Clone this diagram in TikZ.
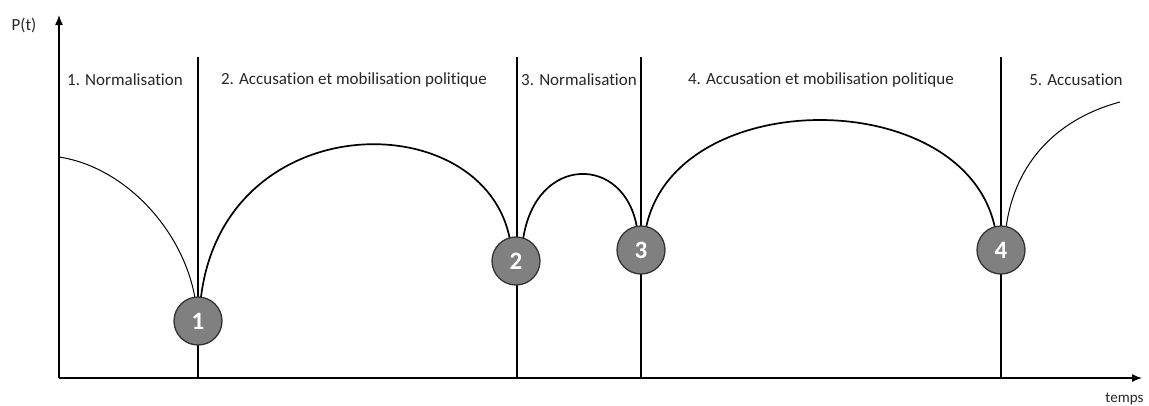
\documentclass[tikz,border=0pt]{standalone}
\usepackage{fontspec}
\setmainfont{Carlito}[Ligatures=NoCommon]
\usetikzlibrary{arrows.meta}
\begin{document}
\begin{tikzpicture}[x=1pt,y=-1pt,
  axis/.style={line width=1.4pt,-{Latex[length=10pt,width=8pt]}},
  sep/.style={line width=1.1pt},
  thick arc/.style={line width=1.7pt},
  thin arc/.style={line width=1pt},
  phase/.style={font=\fontsize{17}{20}\selectfont, text=black!85, anchor=center},
  marker/.style={circle, minimum size=48pt, inner sep=0pt, fill=black!50, draw=black!80, line width=1.3pt, text=white, font=\fontsize{25}{28}\selectfont\bfseries}
]
\useasboundingbox (0,0) rectangle (1149,405);
% axes
\coordinate (O) at (59,378);
\coordinate (Ytop) at (59,15);
\coordinate (Xend) at (1142,378);
\draw[axis] (O) -- (Ytop);
\draw[axis] (O) -- (Xend);
\node[phase, anchor=center] (pt) at (24,25) {P(t)};
\node[phase, anchor=east, font=\fontsize{15}{18}\selectfont] (temps) at (1147,399) {temps};
% separators
\foreach \n/\x in {a/198, b/517, c/641, d/1001} {
  \coordinate (\n top) at (\x,57);
  \coordinate (\n bot) at (\x,378);
  \draw[sep] (\n top) -- (\n bot);
}
% phase labels
\node[phase] (l1) at (125,80) {1. Normalisation};
\node[phase] (l2) at (354,80) {2. Accusation et mobilisation politique};
\node[phase] (l3) at (579,80) {3. Normalisation};
\node[phase] (l4) at (821,80) {4. Accusation et mobilisation politique};
\node[phase] (l5) at (1076,80) {5. Accusation};
% curves
\coordinate (s0) at (59,157);
\coordinate (e5) at (1120,102);
\draw[thin arc] (s0) .. controls (125,167) and (183,230) .. (195,298);
\draw[thick arc] (201,297) .. controls (225,104) and (485,104) .. (510,240);
\draw[thick arc] (523,240) .. controls (535,154) and (625,154) .. (637,228);
\draw[thick arc] (646,228) .. controls (675,84) and (965,84) .. (995,228);
\draw[thin arc] (1006,228) .. controls (1015,160) and (1060,118) .. (e5);
% markers
\node[marker] (m1) at (198,321) {1};
\node[marker] (m2) at (516,261) {2};
\node[marker] (m3) at (641,250) {3};
\node[marker] (m4) at (1001,250) {4};
\end{tikzpicture}
\end{document}
